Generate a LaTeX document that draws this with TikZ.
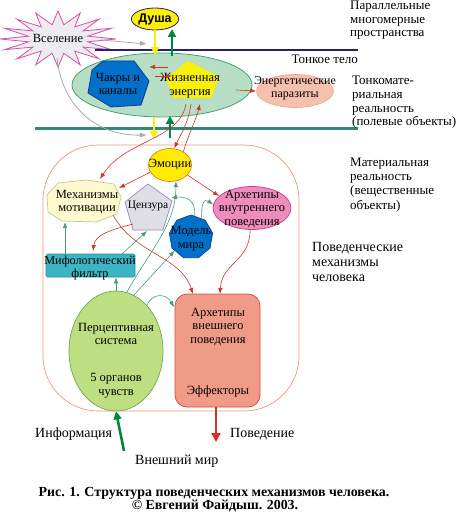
\documentclass[tikz,border=0pt]{standalone}
\usepackage{fontspec}
\setmainfont{Liberation Serif}
\setsansfont{Liberation Sans}
\usetikzlibrary{shapes.geometric,arrows.meta,calc}
\definecolor{starfill}{RGB}{236,236,240}
\definecolor{starline}{RGB}{215,80,170}
\definecolor{yel}{RGB}{250,240,10}
\definecolor{navy}{RGB}{40,30,110}
\definecolor{tealln}{RGB}{50,135,120}
\definecolor{dgreen}{RGB}{0,135,60}
\definecolor{bodyfill}{RGB}{182,222,196}
\definecolor{bodyline}{RGB}{70,160,110}
\definecolor{bluef}{RGB}{0,112,200}
\definecolor{bluel}{RGB}{20,60,150}
\definecolor{parf}{RGB}{245,192,172}
\definecolor{parl}{RGB}{235,165,145}
\definecolor{frame}{RGB}{235,150,130}
\definecolor{emof}{RGB}{255,236,0}
\definecolor{emol}{RGB}{220,130,30}
\definecolor{mechf}{RGB}{255,250,205}
\definecolor{mechl}{RGB}{200,200,150}
\definecolor{cenf}{RGB}{222,222,228}
\definecolor{cenl}{RGB}{150,140,190}
\definecolor{pinkf}{RGB}{238,140,188}
\definecolor{pinkl}{RGB}{200,60,140}
\definecolor{mythf}{RGB}{60,180,195}
\definecolor{mythl}{RGB}{40,145,160}
\definecolor{percf}{RGB}{190,222,130}
\definecolor{percl}{RGB}{110,170,80}
\definecolor{extf}{RGB}{240,155,135}
\definecolor{extl}{RGB}{210,80,70}
\definecolor{grnc}{RGB}{70,155,115}
\definecolor{redc}{RGB}{210,50,40}
\definecolor{grayc}{RGB}{170,170,170}
\tikzset{
  lbl/.style={font=\fontsize{13}{14}\selectfont, align=left, inner sep=0, anchor=base west},
  biglbl/.style={font=\fontsize{14}{14.6}\selectfont, align=left, inner sep=0, anchor=base west},
  inl/.style={font=\fontsize{12.5}{13.6}\selectfont, align=center, inner sep=0},
  redarr/.style={draw=redc, -{Latex[length=6,width=4.5]}, line width=0.6},
  grnarr/.style={draw=grnc, -{Latex[length=6,width=4.5]}, line width=0.6},
  grayarr/.style={draw=grayc, -{Latex[length=7,width=5]}, line width=0.8},
  yarr/.style={draw=yel, line width=2.4, -{Triangle[length=8,width=8]}},
  garr/.style={draw=dgreen, line width=2.4, -{Triangle[length=8,width=8]}},
}
\begin{document}
\begin{tikzpicture}[x=1pt,y=-1pt]
\useasboundingbox (0,0) rectangle (455,513);
% horizontal lines
\coordinate (nvL) at (95,50); \coordinate (nvR) at (358,50);
\coordinate (tlL) at (35,128.5); \coordinate (tlR) at (358,128.5);
% frame
\draw[frame, line width=0.7, rounded corners=55] (43,145) rectangle (299,411);
% star
\draw[starline, fill=starfill, line width=0.8] (58,11)
  \foreach \i [evaluate=\i as \r using {1-0.48*mod(\i,2)}] in {1,...,31}
  { -- ({58+58*\r*cos(90+\i*11.25)},{39-28*\r*sin(90+\i*11.25)}) } -- cycle;
\node[inl] (vs) at (58,38) {Вселение};
% body ellipse
\node[ellipse, draw=bodyline, fill=bodyfill, line width=0.8, minimum width=180, minimum height=64] (body) at (162,85) {};
\draw[navy, line width=2.6] (nvL) -- (nvR);
% chakras heptagon
\draw[bluel, fill=bluef, line width=0.8] (103,61) -- (134,61) -- (149,81) -- (141,105) -- (111,107) -- (88,93) -- (92,70) -- cycle;
\node[inl] (chak) at (118,84) {Чакры и\\каналы};
% life energy pentagon
\draw[yel, fill=yel] (188,61) -- (219,77) -- (211,98) -- (174,98) -- (166,79) -- cycle;
\node[inl] (life) at (190,86) {Жизненная\\энергия};
% soul
\node[ellipse, draw=navy, fill=yel, line width=0.8, minimum width=38, minimum height=22, inner sep=0, font=\sffamily\bfseries\fontsize{12.5}{13}\selectfont] (dusha) at (155,19) {Душа};
% parasites
\node[ellipse, draw=parl, fill=parf, line width=0.6, minimum width=77, minimum height=33, inner sep=0] (par) at (295,91) {};
\node[inl, font=\fontsize{12}{13}\selectfont] (parT) at (295,88) {Энергетические\\паразиты};
\draw[tealln, line width=2.6] (tlL) -- (tlR);
% material level nodes
\node[ellipse, draw=emol, fill=emof, line width=0.7, minimum width=43, minimum height=33, inner sep=0] (emo) at (170,165) {};
\node[inl] (emoT) at (170,165) {Эмоции};
\draw[mechl, fill=mechf, line width=0.7] (47,195) -- (58,183) -- (86,180) -- (114,184) -- (121,197) -- (117,214) -- (96,222) -- (62,221) -- (48,212) -- cycle;
\node[inl] (mech) at (87,202) {Механизмы\\мотивации};
\draw[cenl, fill=cenf, line width=0.7] (148,184) -- (172,201) -- (163,230) -- (133,230) -- (125,202) -- cycle;
\node[inl, font=\fontsize{11.5}{13}\selectfont] (cens) at (148,206) {Цензура};
\node[ellipse, draw=pinkl, fill=pinkf, line width=0.7, minimum width=78, minimum height=43, inner sep=0] (arin) at (252,208) {};
\node[inl] (arinT) at (252,209) {Архетипы\\внутреннего\\поведения};
\node[regular polygon, regular polygon sides=9, draw=bluel, fill=bluef, line width=0.7, minimum size=44, inner sep=0] (model) at (191,237) {};
\node[inl] (modelT) at (191,238.5) {Модель\\мира};
\node[draw=mythl, fill=mythf, line width=0.7, rounded corners=1.5, minimum width=89, minimum height=23, inner sep=0] (myth) at (90.5,265.5) {};
\node[inl, font=\fontsize{12.2}{13.6}\selectfont] (mythT) at (90,268) {Мифологический\\фильтр};
\node[ellipse, draw=percl, fill=percf, line width=0.7, minimum width=94, minimum height=120, inner sep=0] (perc) at (116,351) {};
\node[inl] (percT1) at (116,334) {Перцептивная\\система};
\node[inl] (percT2) at (116,386) {5 органов\\чувств};
\node[draw=extl, fill=extf, line width=0.8, rounded corners=12, minimum width=85, minimum height=113, inner sep=0] (ext) at (217.5,350.5) {};
\node[inl] (extT1) at (218,327) {Архетипы\\внешнего\\поведения};
\node[inl] (extT2) at (218,391) {Эффекторы};
% coordinates for connectors
\coordinate (starR) at (101,40); \coordinate (g1) at (147,44);
\coordinate (starB) at (57,58); \coordinate (g2) at (147,135);
\coordinate (y1e) at (155,55);
\coordinate (y2s) at (154,117); \coordinate (y2e) at (154,139);
\coordinate (gr1s) at (172,56); \coordinate (gr1e) at (172,29);
\coordinate (gr2s) at (170,138); \coordinate (gr2e) at (170,116);
\coordinate (ra1s) at (168,67); \coordinate (ra1e) at (149,67);
\coordinate (ra2s) at (155,76); \coordinate (ra2e) at (172,76);
\coordinate (ra3s) at (236,90);
\coordinate (bA) at (186,104); \coordinate (bB) at (191,104); \coordinate (bC) at (200,104);
\coordinate (mechIn) at (100,179);
\coordinate (info) at (124,451); \coordinate (beh) at (216,442);
\coordinate (extIn) at (174,307);
% gray arrows
\draw[grayarr] (starR) -- (g1);
\draw[grayarr] (starB) .. controls (62,105) and (95,136) .. (g2);
% yellow/green
\draw[yarr] (dusha.south -| y1e) -- (y1e);
\draw[garr] (gr1s) -- (gr1e);
\draw[yarr] (y2s) -- (y2e);
\draw[garr] (gr2s) -- (gr2e);
% red in body
\draw[redarr] (ra1s) -- (ra1e);
\draw[redarr] (ra2s) -- (ra2e);
\draw[redarr] (ra3s) -- (par.west);
% red between body and emotions
\draw[redarr] (bA) .. controls (180,140) and (125,140) .. (mechIn);
\draw[redarr] (bB) .. controls (188,125) and (180,135) .. (emo.75);
\draw[redarr] (emo.45) .. controls (190,130) and (196,120) .. (bC);
% red among material nodes
\draw[redarr] (emo.200) -- (119,188);
\draw[redarr] (emo.-30) -- (arin.160);
\draw[redarr] (133,224) .. controls (110,230) and (95,235) .. (93,251);
\draw[redarr] (113,215) .. controls (135,255) and (180,255) .. (193,294);
\draw[redarr] (arin.-95) .. controls (250,262) and (222,262) .. (220,294);
% green among material nodes
\draw[grnarr] (65,254) -- (65,222);
\draw[grnarr] (perc.north) -- (myth.south -| perc.north);
\draw[grnarr] (122,254) -- (147,231);
\draw[grnarr] (133,296) -- (model.220);
\draw[grnarr] (127,292) .. controls (150,250) and (176,225) .. (emo.-70);
\draw[grnarr] (147,305) .. controls (152,293) and (166,293) .. (extIn);
\draw[grnarr] (model.80) .. controls (196,200) and (186,196) .. (171,198);
\draw[grnarr] (model.60) .. controls (201,204) and (204,198) .. (arin.175);
% big arrows
\draw[garr, line width=2.6] (info) -- (perc.south);
\draw[draw=redc, line width=2.6, -{Triangle[length=9,width=9]}] (ext.south -| beh) -- (beh);
% labels (base = last line)
\node[lbl, font=\fontsize{13}{13.5}\selectfont] (pm) at (350,37) {Параллельные\\многомерные\\пространства};
\node[lbl, anchor=base east] (tt) at (358,63.5) {Тонкое тело};
\node[lbl, font=\fontsize{13}{13.9}\selectfont] (tm) at (352,126) {Тонкомате-\\риальная\\реальность\\(полевые объекты)};
\node[lbl, font=\fontsize{13}{14.1}\selectfont] (mr) at (350,209) {Материальная\\реальность\\(вещественные\\объекты)};
\node[biglbl] (pmh) at (312,281) {Поведенческие\\механизмы\\человека};
\node[biglbl] (inf) at (35,437) {Информация};
\node[biglbl] (pov) at (230,437) {Поведение};
\node[biglbl] (vm) at (135,464) {Внешний мир};
\node[font=\bfseries\fontsize{13.9}{13.9}\selectfont, inner sep=0, anchor=base] (cap1) at (214,496.5) {Рис. 1. Структура поведенческих механизмов человека.};
\node[font=\bfseries\fontsize{13.9}{13.9}\selectfont, inner sep=0, anchor=base] (cap2) at (215,509) {© Евгений Файдыш. 2003.};
\end{tikzpicture}
\end{document}
